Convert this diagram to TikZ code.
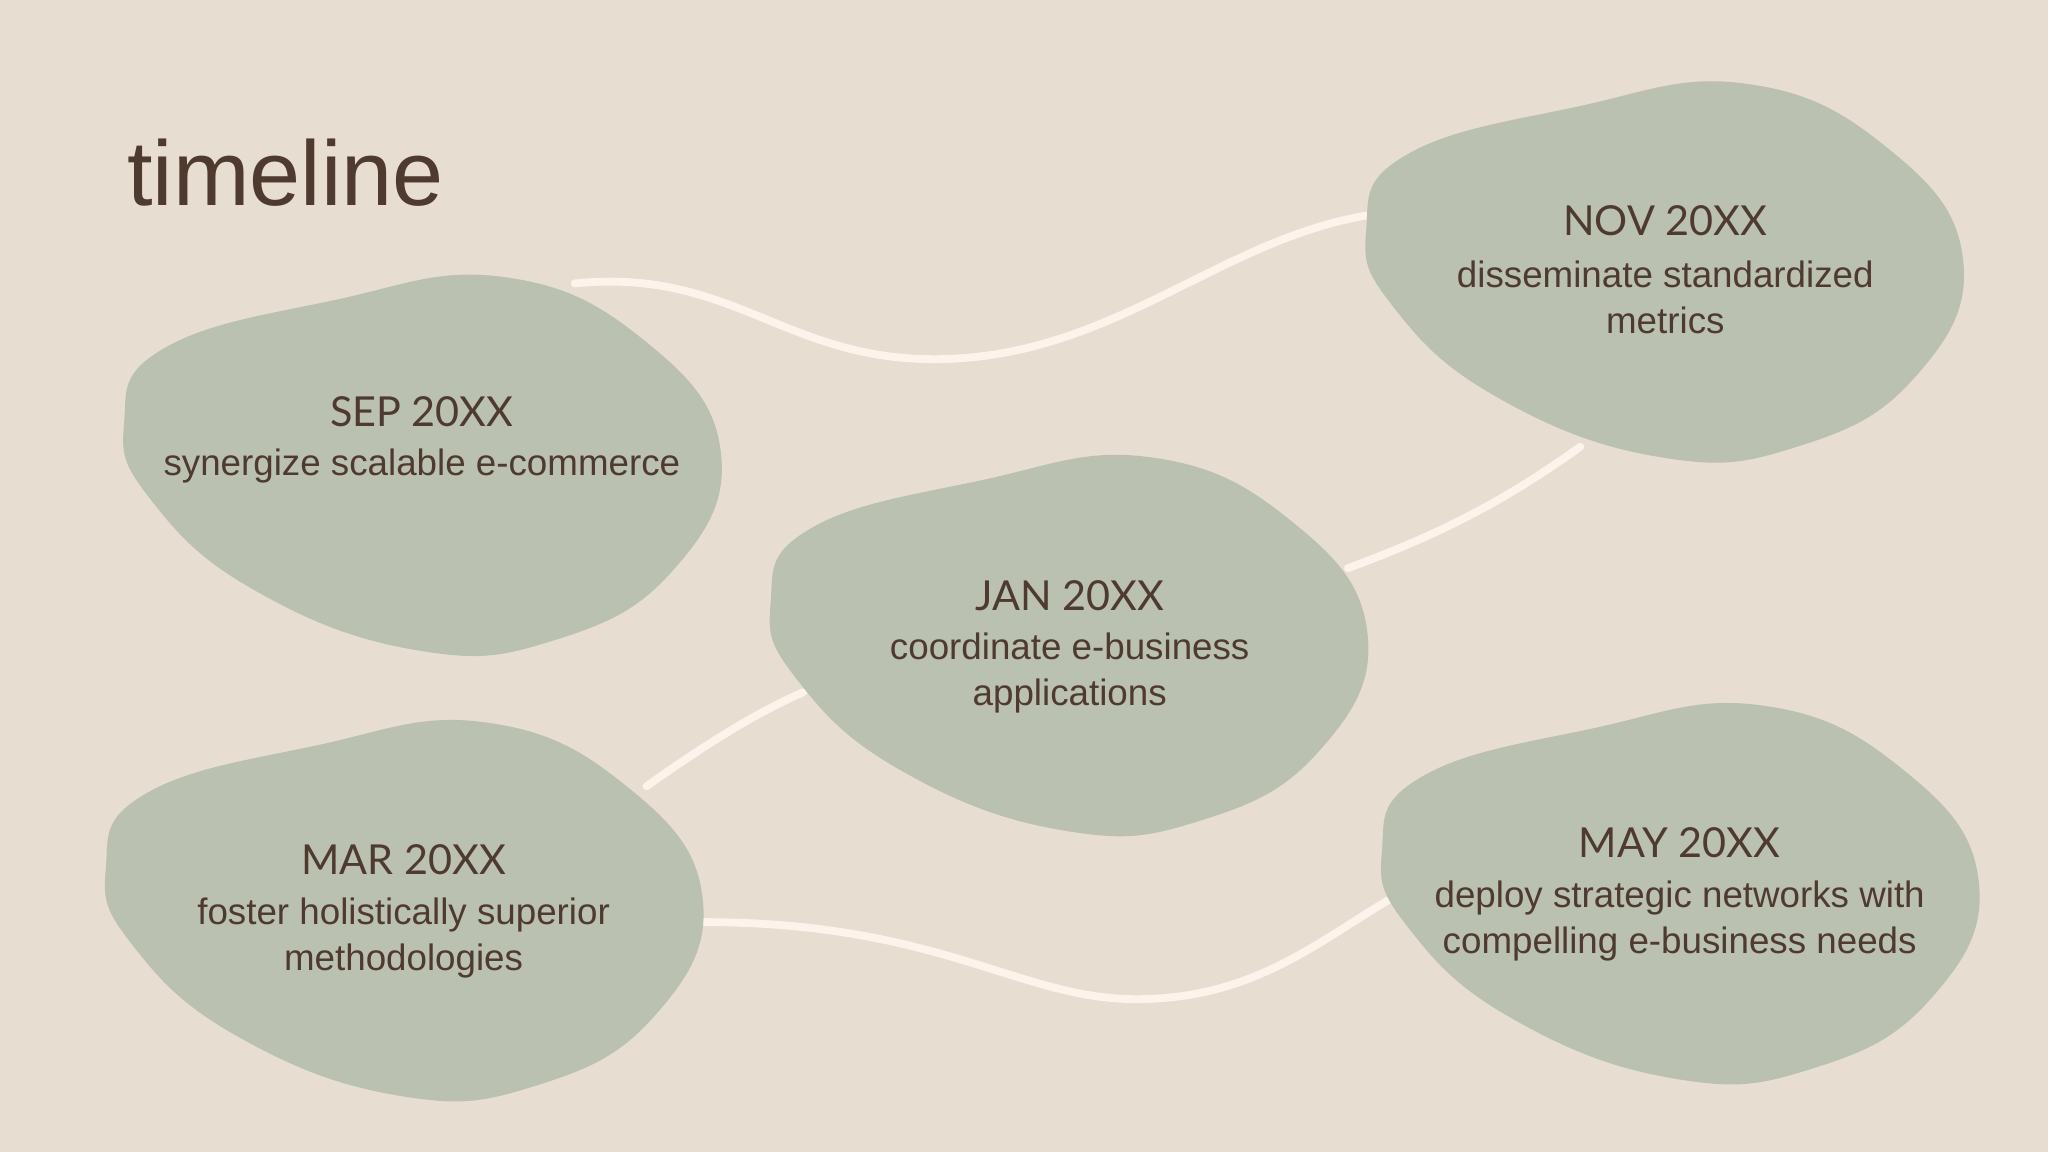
\documentclass[tikz,border=0pt]{standalone}
\usepackage{fontspec}
\setmainfont{Liberation Sans}
\newfontfamily\headfont{Lato}
\begin{document}
\begin{tikzpicture}[x=0.01cm,y=-0.01cm,
  blobfill/.style={fill=blobc},
  link/.style={draw=linkc,line width=1.7pt,line cap=round},
  head/.style={text=txtc,font=\headfont\fontsize{9}{11}\selectfont,anchor=center},
  body/.style={text=txtc,font=\fontsize{8}{10}\selectfont,align=center,anchor=center}]
\definecolor{bgc}{HTML}{E8DDD1}
\definecolor{blobc}{HTML}{BAC1B0}
\definecolor{txtc}{HTML}{4F3A30}
\definecolor{linkc}{HTML}{FDF3EA}
\fill[bgc] (0,0) rectangle (1568,882);
\useasboundingbox (0,0) rectangle (1568,882);
% connectors
\coordinate (s1) at (440,217); \coordinate (n1) at (1046,165);
\coordinate (j1) at (1032,435); \coordinate (n2) at (1210,342);
\coordinate (m1) at (495,602); \coordinate (j2) at (615,530);
\coordinate (m2) at (538,706); \coordinate (y1) at (1065,688);
\draw[link] (s1) .. controls (560,205) and (600,275) .. (715,275) .. controls (850,275) and (930,185) .. (n1);
\draw[link] (j1) .. controls (1100,410) and (1150,385) .. (n2);
\draw[link] (m1) .. controls (540,570) and (580,545) .. (j2);
\draw[link] (m2) .. controls (720,706) and (780,765) .. (870,765) .. controls (960,765) and (1010,720) .. (y1);
% blobs
\foreach \x/\y/\n in {95/212/sep,1046/64/nov,590/350/jan,81/553/mar,1058/540/may}{
  \fill[blobfill,shift={(\x,\y)}] plot[smooth cycle,tension=0.75] coordinates
   {(0,112) (30,55) (160,18) (290,0) (400,50) (457,135) (420,225) (330,278) (225,286) (100,240) (20,170)};
}
\node[text=txtc,font=\fontsize{20}{24}\selectfont,anchor=west] (title) at (85,132) {timeline};
\node[head] (h1) at (323,315) {SEP 20XX};
\node[body] (b1) at (323,357) {synergize scalable e-commerce};
\node[head] (h2) at (1275,169) {NOV 20XX};
\node[body] (b2) at (1275,228) {disseminate standardized\\metrics};
\node[head] (h3) at (819,456) {JAN 20XX};
\node[body] (b3) at (819,515) {coordinate e-business\\applications};
\node[head] (h4) at (309,658) {MAR 20XX};
\node[body] (b4) at (309,718) {foster holistically superior\\methodologies};
\node[head] (h5) at (1286,645) {MAY 20XX};
\node[body] (b5) at (1286,705) {deploy strategic networks with\\compelling e-business needs};
\end{tikzpicture}
\end{document}
